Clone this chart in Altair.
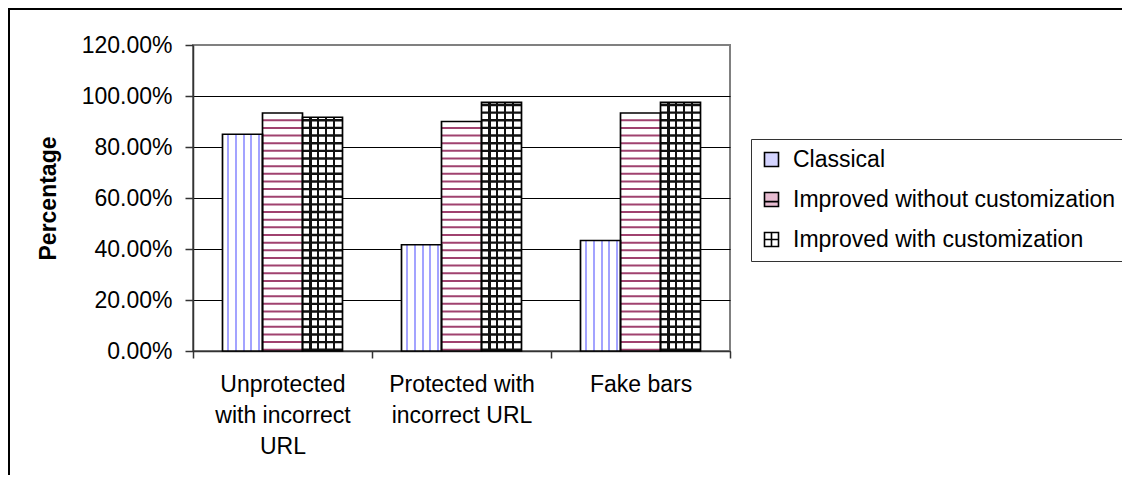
import json
import altair as alt
import pandas as pd

# ---- data ----
categories = ["Unprotected with incorrect URL", "Protected with incorrect URL", "Fake bars"]
category_lines = [["Unprotected", "with incorrect", "URL"], ["Protected with", "incorrect URL"], ["Fake bars"]]
series = ["Classical", "Improved without customization", "Improved with customization"]
classical = [0.85, 0.4167, 0.4333]
improved_without = [0.9333, 0.90, 0.9333]
improved_with = [0.9167, 0.975, 0.975]
y_ticks = [0.0, 0.2, 0.4, 0.6, 0.8, 1.0, 1.2]

rows = []
for s, vals in zip(series, [classical, improved_without, improved_with]):
    for c, v in zip(categories, vals):
        rows.append({"category": c, "series": s, "value": v})
df = pd.DataFrame(rows)

FONT = "Liberation Sans"
FS = 23

label_expr = " : ".join(
    f"datum.value == {json.dumps(c)} ? {json.dumps(l)}" for c, l in zip(categories, category_lines)
) + " : datum.label"


def stripes(centers, hw, color, base="white"):
    stops = [{"offset": 0, "color": base}]
    for c in centers:
        stops += [
            {"offset": round(c - hw, 4), "color": base},
            {"offset": round(c - hw, 4), "color": color},
            {"offset": round(c + hw, 4), "color": color},
            {"offset": round(c + hw, 4), "color": base},
        ]
    stops.append({"offset": 1, "color": base})
    return {"gradient": "linear", "x1": 0, "y1": 0, "x2": 1, "y2": 0, "stops": stops}


grad_classical = stripes([0.14, 0.335, 0.53, 0.725, 0.92], 0.025, "#a3a3ff")
grad_without = {"gradient": "linear", "x1": 0, "y1": 0, "x2": 1, "y2": 0,
                "stops": [{"offset": 0, "color": "white"}, {"offset": 1, "color": "white"}]}
grad_with = stripes([0.2, 0.395, 0.59, 0.785], 0.03, "#111111")

X = alt.X(
    "category:N",
    sort=categories,
    scale=alt.Scale(paddingInner=0, paddingOuter=0),
    axis=alt.Axis(
        title=None, labelAngle=0, labelExpr=label_expr, tickBand="extent",
        labelLineHeight=31, labelPadding=15, labelLimit=0, grid=False,
        tickSize=7, tickWidth=1.5, tickColor="#333333", domainColor="#333333", domainWidth=1.5,
        labelFont=FONT, labelFontSize=FS, labelColor="black", labelBaseline="top",
    ),
)
XO = alt.XOffset(
    "series:N", sort=series,
    scale=alt.Scale(domain=series, paddingOuter=0.7375, paddingInner=0),
)


def Yenc(field):
    return alt.Y(
        field,
        scale=alt.Scale(domain=[0, 1.2], nice=False),
        axis=alt.Axis(
            values=y_ticks, format=".2%", title="Percentage",
            titleFont=FONT, titleFontSize=FS, titleFontWeight="bold", titleColor="black",
            titlePadding=21,
            labelFont=FONT, labelFontSize=FS, labelColor="black", labelPadding=13,
            tickSize=8, tickWidth=1.5, tickColor="#333333",
            domainColor="#333333", domainWidth=1.5,
            grid=True, gridWidth=1.2,
            gridColor={"condition": {"test": "datum.value >= 1.19", "value": "#808080"}, "value": "#000000"},
        ),
    )


def bar_layer(s, grad):
    return (
        alt.Chart(df)
        .transform_filter(alt.datum.series == s)
        .mark_bar(fill=grad, strokeWidth=0)
        .encode(x=X, xOffset=XO, y=Yenc("value:Q"))
    )


def stripe_layer(s, color, thick):
    return (
        alt.Chart(df)
        .transform_filter(alt.datum.series == s)
        .transform_calculate(lv="sequence(0.005, datum.value - 0.008, 0.03)")
        .transform_flatten(["lv"])
        .mark_tick(color=color, thickness=thick, size=40, opacity=1)
        .encode(x=X, xOffset=XO, y=Yenc("lv:Q"))
    )


outline = (
    alt.Chart(df)
    .mark_bar(fillOpacity=0, stroke="black", strokeWidth=1.7)
    .encode(x=X, xOffset=XO, y=Yenc("value:Q"))
)

legend_fills = ["#d4d4ff", "#e7bcd1", "#ffffff"]
legend_strokes = ["#000000", "#000000", "#000000"]
legend_paths = [
    "M-1,-1H1V1H-1Z",
    "M-1,-1H1V1H-1Z M-1,0.3H1",
    "M-1,-1H1V1H-1Z M0,-1V1 M-1,0H1",
]
leg = alt.Legend(title=None, orient="none", legendX=558, legendY=94, symbolStrokeWidth=1.6)
legend_layer = (
    alt.Chart(df)
    .transform_filter("false")
    .mark_point(filled=True, strokeWidth=1.6, opacity=1)
    .encode(
        fill=alt.Fill("series:N", scale=alt.Scale(domain=series, range=legend_fills), legend=leg),
        stroke=alt.Stroke("series:N", scale=alt.Scale(domain=series, range=legend_strokes), legend=leg),
        shape=alt.Shape("series:N", scale=alt.Scale(domain=series, range=legend_paths), legend=leg),
    )
)

frame = (
    alt.Chart(pd.DataFrame({"f": [0]}))
    .mark_rect(fillOpacity=0, stroke="black", strokeWidth=2)
    .encode(x=alt.value(-184), x2=alt.value(1500), y=alt.value(-36), y2=alt.value(1500))
)

chart = (
    alt.layer(
        bar_layer(series[0], grad_classical),
        bar_layer(series[1], grad_without),
        bar_layer(series[2], grad_with),
        stripe_layer(series[1], "#a0426f", 2.0),
        stripe_layer(series[2], "#111111", 2.4),
        outline,
        legend_layer,
        frame,
    )
    .properties(
        width=537, height=306,
        padding={"left": 185, "top": 37, "right": 392, "bottom": 124},
        autosize=alt.AutoSizeParams(type="none"),
        background="white",
    )
    .configure_view(stroke="#808080", strokeWidth=2)
    .configure_legend(
        padding=9, rowPadding=16, symbolSize=196, labelOffset=10,
        strokeColor="#333333", fillColor="white", cornerRadius=0,
        labelFont=FONT, labelFontSize=FS, labelColor="black",
        labelLimit=0,
    )
)

chart.save("out.html", embed_options={"renderer": "svg", "actions": False})
